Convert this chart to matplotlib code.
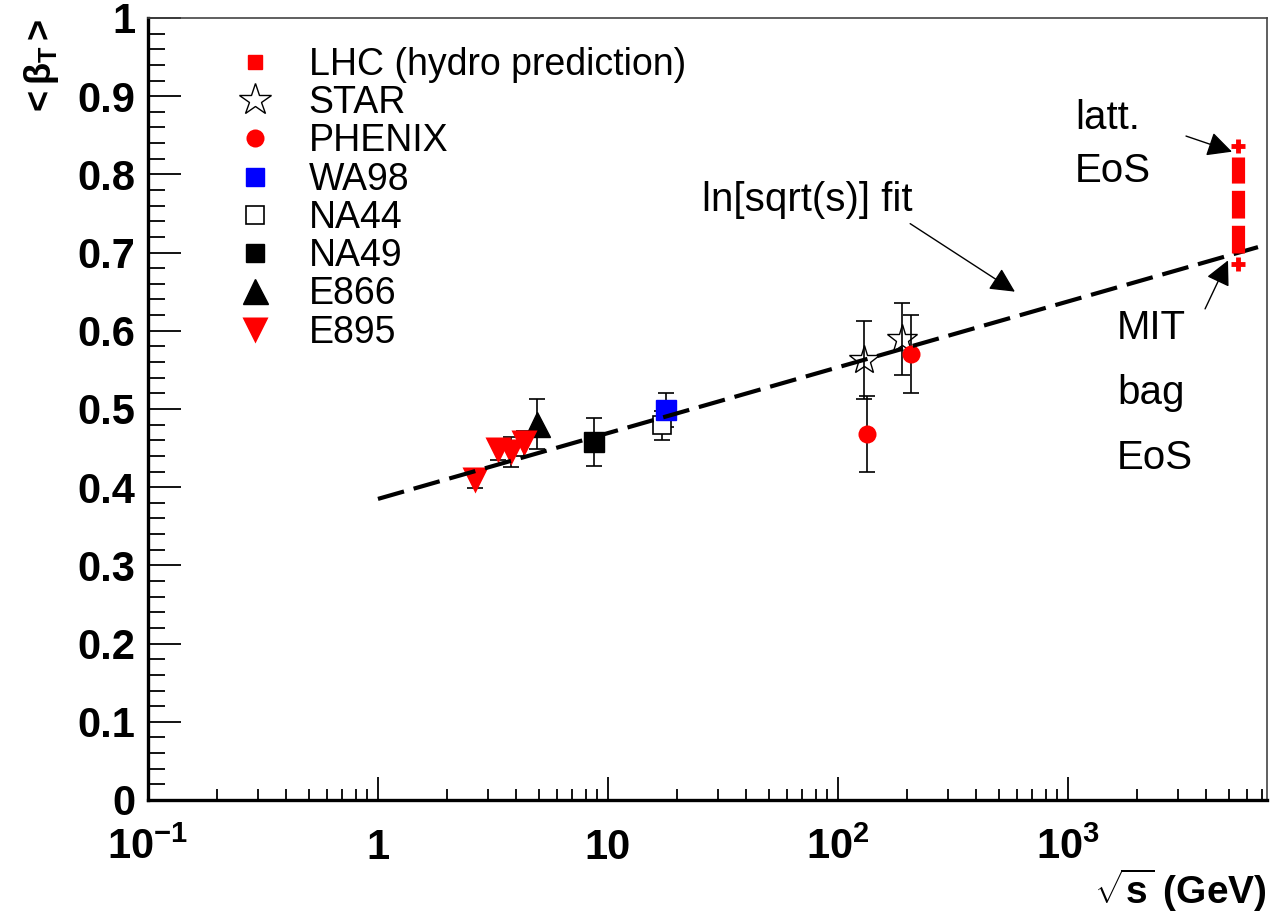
import numpy as np
import matplotlib.pyplot as plt
from matplotlib.lines import Line2D
from matplotlib.ticker import FixedLocator, LogLocator, NullFormatter

plt.rcParams['font.family'] = ['Liberation Sans', 'DejaVu Sans']
plt.rcParams['mathtext.fontset'] = 'custom'
plt.rcParams['mathtext.rm'] = 'Liberation Sans'
plt.rcParams['mathtext.bf'] = 'Liberation Sans:bold'
plt.rcParams['mathtext.it'] = 'Liberation Sans:italic'

# data
e895_x = [2.63, 3.31, 3.77, 4.33]
e895_y = [0.409, 0.447, 0.445, 0.456]
e895_err = [0.010, 0.012, 0.019, 0.016]

e866_x = [4.9]
e866_y = [0.481]
e866_err = [0.032]

na49_x = [8.7]
na49_y = [0.458]
na49_err = [0.031]

na44_x = [17.2]
na44_y = [0.479]
na44_err = [0.019]

wa98_x = [17.8]
wa98_y = [0.499]
wa98_err = [0.022]

star_x = [130, 190]
star_y = [0.563, 0.590]
star_err = [0.050, 0.046]

phenix_x = [134, 207]
phenix_y = [0.468, 0.570]
phenix_err = [0.048, 0.050]

lhc_x = 5500
lhc_band = [0.70, 0.822]
lhc_tips = [0.686, 0.836]

fit_x = [1.0, 6700]
fit_y = [0.385, 0.707]

ytick_vals = [0, 0.1, 0.2, 0.3, 0.4, 0.5, 0.6, 0.7, 0.8, 0.9, 1]
ytick_labels = ['0', '0.1', '0.2', '0.3', '0.4', '0.5', '0.6', '0.7', '0.8', '0.9', '1']
xtick_vals = [0.1, 1, 10, 100, 1000]
xtick_labels = [r'$\mathbf{10^{-1}}$', '1', '10', r'$\mathbf{10^{2}}$', r'$\mathbf{10^{3}}$']

fig = plt.figure(figsize=(12.7, 9.17), dpi=100)
ax = fig.add_axes([0.1165, 0.1276, 0.8811, 0.8528])
ax.set_xscale('log')
ax.set_xlim(0.1, 7330)
ax.set_ylim(0, 1)

eb = dict(fmt='none', ecolor='black', elinewidth=1.2, capsize=6, capthick=1.2, zorder=2)
ax.errorbar(e895_x, e895_y, yerr=e895_err, **eb)
ax.errorbar(e866_x, e866_y, yerr=e866_err, **eb)
ax.errorbar(na49_x, na49_y, yerr=na49_err, **eb)
ax.errorbar(na44_x, na44_y, yerr=na44_err, **eb)
ax.errorbar(wa98_x, wa98_y, yerr=wa98_err, **eb)
ax.errorbar(star_x, star_y, yerr=star_err, **eb)
ax.errorbar(phenix_x, phenix_y, yerr=phenix_err, **eb)

ax.plot(na44_x, na44_y, 's', ms=13.5, mfc='white', mec='black', mew=1.2, zorder=3)
ax.plot(wa98_x, wa98_y, 's', ms=14, color='#0000ff', zorder=3)
ax.plot(na49_x, na49_y, 's', ms=14.5, color='black', zorder=3)
ax.plot(e866_x, e866_y, '^', ms=18, color='black', zorder=3)
ax.plot(e895_x, e895_y, 'v', ms=19, color='#ff0000', mec='none', zorder=3)
ax.plot(star_x, star_y, '*', ms=22, mfc='none', mec='black', mew=1, zorder=3)
ax.plot(phenix_x, phenix_y, 'o', ms=13, color='#ff0000', mec='none', zorder=3)

ax.plot(fit_x, fit_y, color='black', lw=3, dashes=(6.5, 2.4), zorder=4)

ax.plot([lhc_x, lhc_x], lhc_band, color='#ff0000', lw=9.5, dashes=(2.1, 0.55),
        solid_capstyle='butt', dash_capstyle='butt', zorder=4)
ax.plot([lhc_x, lhc_x], lhc_tips, '+', color='#ff0000', ms=10, mew=3.5, zorder=4)

# annotations
arw = dict(arrowstyle='-|>', color='black', lw=1, mutation_scale=38, shrinkA=0, shrinkB=0)
ax.annotate('', xy=(588, 0.650), xytext=(206, 0.737), arrowprops=arw)
ax.annotate('', xy=(5165, 0.829), xytext=(3260, 0.849), arrowprops=arw)
ax.annotate('', xy=(4963, 0.690), xytext=(3945, 0.628), arrowprops=arw)

ax.text(0.4955, 0.767, 'ln[sqrt(s)] fit', transform=ax.transAxes, fontsize=29,
        ha='left', va='center')
ax.text(0.8284, 0.838, 'latt.\nEoS', transform=ax.transAxes, fontsize=29,
        ha='left', va='center', linespacing=1.5)
ax.text(0.8660, 0.520, 'MIT\nbag\nEoS', transform=ax.transAxes, fontsize=29,
        ha='left', va='center', linespacing=1.9)

# legend
handles = [
    Line2D([], [], ls='none', marker='s', ms=10, color='#ff0000'),
    Line2D([], [], ls='none', marker='*', ms=24, mfc='white', mec='black', mew=1),
    Line2D([], [], ls='none', marker='o', ms=13, color='#ff0000', mec='none'),
    Line2D([], [], ls='none', marker='s', ms=13, color='#0000ff'),
    Line2D([], [], ls='none', marker='s', ms=13, mfc='white', mec='black', mew=1.2),
    Line2D([], [], ls='none', marker='s', ms=13, color='black'),
    Line2D([], [], ls='none', marker='^', ms=18, color='black'),
    Line2D([], [], ls='none', marker='v', ms=19, color='#ff0000', mec='none'),
]
labels = ['LHC (hydro prediction)', 'STAR', 'PHENIX', 'WA98', 'NA44', 'NA49', 'E866', 'E895']
ax.legend(handles, labels, loc='upper left', bbox_to_anchor=(0.0800, 0.963),
          frameon=False, fontsize=27, labelspacing=0.06, handlelength=0.95,
          handletextpad=0.95, borderpad=0, borderaxespad=0)

# axes styling
ax.yaxis.set_major_locator(FixedLocator(ytick_vals))
ax.yaxis.set_minor_locator(FixedLocator(np.arange(0, 1.001, 0.02)))
ax.set_yticklabels(ytick_labels)
ax.xaxis.set_major_locator(FixedLocator(xtick_vals))
ax.xaxis.set_minor_locator(LogLocator(base=10, subs=np.arange(2, 10), numticks=20))
ax.xaxis.set_minor_formatter(NullFormatter())
ax.set_xticklabels(xtick_labels)

ax.tick_params(axis='y', which='major', direction='in', length=24, width=1.3,
               labelsize=30, pad=9)
ax.tick_params(axis='y', which='minor', direction='in', length=12.5, width=1.3)
ax.tick_params(axis='x', which='major', direction='in', length=16.5, width=1.3,
               labelsize=30, pad=20)
ax.tick_params(axis='x', which='minor', direction='in', length=8, width=1.3)
for lbl in ax.get_xticklabels() + ax.get_yticklabels():
    lbl.set_fontweight('bold')

for s in ['left', 'bottom']:
    ax.spines[s].set_linewidth(2.4)
for s in ['top', 'right']:
    ax.spines[s].set_linewidth(1.2)
    ax.spines[s].set_color('#444444')

ax.set_xlabel(r'$\sqrt{\mathbf{s}}$ (GeV)', fontsize=28, fontweight='bold', loc='right')
ax.xaxis.set_label_coords(1.0, -0.085)
ax.set_ylabel(r'$\mathbf{{<}\beta_{T}{>}}$', fontsize=26, loc='top')
ax.yaxis.set_label_coords(-0.078, 1.0)

fig.savefig('out.png', dpi=100)
